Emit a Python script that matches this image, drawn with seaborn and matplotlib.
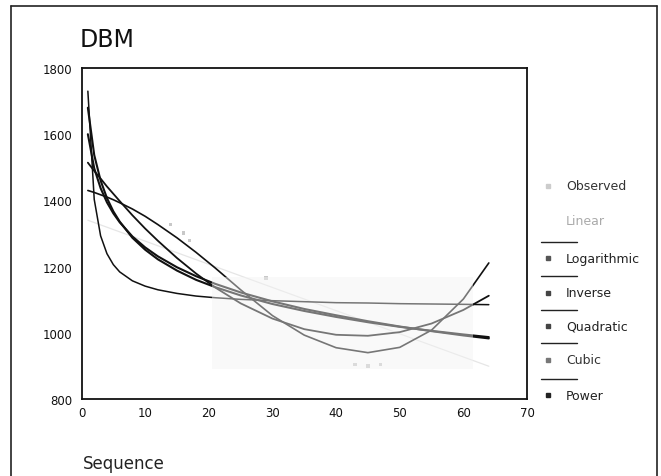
import matplotlib
matplotlib.use("Agg")
import matplotlib.pyplot as plt
from matplotlib.lines import Line2D
from matplotlib.patches import Rectangle
import seaborn as sns
import pandas as pd

# ---- data ----
seq = [1, 2, 3, 4, 5, 6, 8, 10, 12, 15, 18, 21, 25, 30, 35, 40, 45, 50, 55, 60, 64]
linear = [1340, 1333, 1326, 1319, 1312, 1305, 1291, 1277, 1263, 1242, 1221, 1200, 1172,
          1137, 1102, 1067, 1032, 997, 962, 927, 899]
logarithmic = [1600, 1497, 1437, 1394, 1361, 1334, 1291, 1258, 1231, 1198, 1171, 1148, 1122,
               1095, 1072, 1053, 1035, 1019, 1005, 992, 983]
inverse = [1730, 1403, 1293, 1239, 1206, 1184, 1157, 1141, 1130, 1119, 1111, 1106, 1101,
           1097, 1094, 1091, 1090, 1088, 1087, 1086, 1085]
quadratic = [1514, 1489, 1466, 1442, 1420, 1398, 1355, 1315, 1278, 1226, 1179, 1137, 1089,
             1043, 1011, 994, 991, 1002, 1028, 1069, 1112]
cubic = [1430, 1424, 1417, 1410, 1402, 1393, 1374, 1352, 1327, 1287, 1243, 1196, 1130,
         1052, 993, 955, 940, 956, 1008, 1102, 1211]
power = [1680, 1537, 1460, 1407, 1367, 1336, 1287, 1251, 1222, 1188, 1160, 1138, 1113,
         1087, 1066, 1048, 1032, 1018, 1006, 995, 987]
obs_x = [14, 16, 17, 29, 43, 45, 47]
obs_y = [1328, 1301, 1278, 1165, 905, 900, 905]

legend_labels = ["Observed", "Linear", "Logarithmic", "Inverse", "Quadratic", "Cubic", "Power"]
x_ticks = [0, 10, 20, 30, 40, 50, 60, 70]
y_ticks = [800, 1000, 1200, 1400, 1600, 1800]

sns.set_style("white")
plt.rcParams["font.family"] = ["DejaVu Sans"]

W, H = 661, 477
fig = plt.figure(figsize=(W / 100, H / 100), dpi=100)
ax = fig.add_axes([81.5 / W, 1 - 400 / H, (527 - 81.5) / W, (400 - 69) / H])

df = pd.DataFrame({"Sequence": seq, "Linear": linear, "Logarithmic": logarithmic,
                   "Inverse": inverse, "Quadratic": quadratic, "Cubic": cubic, "Power": power})

sns.lineplot(data=df, x="Sequence", y="Linear", ax=ax, color="#e6e6e6", lw=0.9, zorder=2)
for name, lw in [("Logarithmic", 1.5), ("Power", 1.5), ("Inverse", 1.1),
                 ("Quadratic", 1.3), ("Cubic", 1.2)]:
    sns.lineplot(data=df, x="Sequence", y=name, ax=ax, color="#111111", lw=lw, zorder=3)
sns.scatterplot(x=obs_x, y=obs_y, ax=ax, color="#c8c8c8", s=6, marker="s",
                edgecolor="none", zorder=2)

# faint scanned band in the lower middle of the plot
ax.add_patch(Rectangle((0.293, 0.09), 0.585, 0.28, transform=ax.transAxes,
                       facecolor="#f3f3f3", edgecolor="none", alpha=0.45, zorder=4))

ax.set_xlim(0, 70)
ax.set_ylim(800, 1800)
ax.set_xticks(x_ticks)
ax.set_yticks(y_ticks)
ax.set_xlabel("")
ax.set_ylabel("")
ax.tick_params(axis="x", direction="out", length=3, width=3, labelsize=8.5, pad=2,
               colors="#111111")
ax.tick_params(axis="y", direction="inout", length=5, width=2.2, labelsize=8.5, pad=4,
               colors="#111111")
for sp in ax.spines.values():
    sp.set_visible(True)
    sp.set_color("#111111")
    sp.set_linewidth(1.3)

fig.text(80 / W, 1 - 47 / H, "DBM", fontsize=17, color="#111111", ha="left", va="baseline")
fig.text(83 / W, 1 - 469 / H, "Sequence", fontsize=12, color="#222222", ha="left",
         va="baseline")

# legend drawn at the right of the plot
ys = [187, 222, 259, 294, 327, 361, 396]
text_cols = ["#333333", "#aaaaaa", "#222222", "#222222", "#222222", "#333333", "#222222"]
mark_cols = ["#cccccc", "none", "#555555", "#444444", "#444444", "#777777", "#222222"]
for lab, y, tc, mc in zip(legend_labels, ys, text_cols, mark_cols):
    fig.text(566 / W, 1 - y / H, lab, fontsize=9, color=tc, ha="left", va="center")
    if mc != "none":
        fig.add_artist(Line2D([548 / W], [1 - y / H], marker="s", ms=3, color=mc,
                              markeredgecolor=mc, linestyle="none"))
for y in [243, 277, 311, 344, 380]:
    fig.add_artist(Line2D([541 / W, 577 / W], [1 - y / H, 1 - y / H], color="#222222", lw=1.0))

# outer frame
frame = dict(color="#222222", lw=1.2)
fig.add_artist(Line2D([11 / W, 11 / W], [0, 1 - 7 / H], **frame))
fig.add_artist(Line2D([11 / W, 657 / W], [1 - 7 / H, 1 - 7 / H], **frame))
fig.add_artist(Line2D([657 / W, 657 / W], [0, 1 - 7 / H], **frame))

fig.savefig("out.png", dpi=100)
